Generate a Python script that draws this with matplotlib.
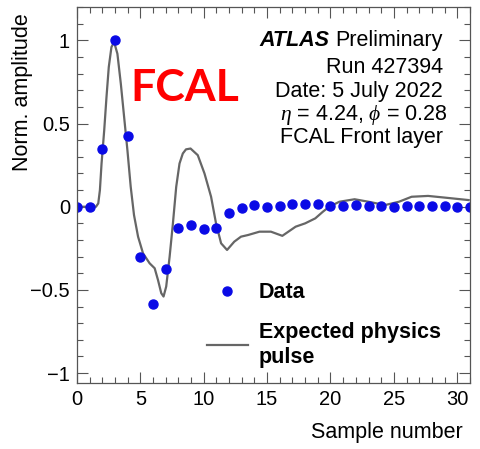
import numpy as np
import matplotlib
matplotlib.use('Agg')
import matplotlib.pyplot as plt
from matplotlib.ticker import MultipleLocator

plt.rcParams['font.family'] = ['Liberation Sans', 'DejaVu Sans']
plt.rcParams['mathtext.fontset'] = 'custom'
plt.rcParams['mathtext.it'] = 'Liberation Serif:italic'
plt.rcParams['mathtext.rm'] = 'Liberation Sans'

# ============================== Data ==========================================
sample = list(range(32))
amplitude = [0.0, 0.0, 0.35, 1.0, 0.425, -0.30, -0.585, -0.375, -0.13, -0.11,
             -0.135, -0.127, -0.04, -0.005, 0.01, 0.0, 0.005, 0.015, 0.015, 0.015,
             0.005, 0.005, 0.008, 0.005, 0.003, 0.0, 0.005, 0.003, 0.003, 0.003,
             0.0, 0.0]

pulse_x = [0.0, 1.0, 1.5, 1.68, 1.81, 1.94, 2.15, 2.33, 2.51, 2.72, 2.93, 3.19,
           3.46, 3.72, 3.98, 4.24, 4.50, 4.82, 5.21, 5.73, 6.13, 6.39, 6.65, 6.83,
           7.04, 7.31, 7.57, 7.83, 8.09, 8.35, 8.6, 8.96, 9.53, 10.06, 10.58, 10.97,
           11.37, 11.84, 12.41, 12.94, 13.5, 14.4, 15.3, 16.2, 17.25, 18.0, 18.8,
           19.4, 19.9, 20.7, 21.9, 23.0, 24.3, 25.4, 26.4, 27.7, 29.0, 30.9]
pulse_y = [0.0, 0.0, 0.0, 0.02, 0.10, 0.26, 0.46, 0.66, 0.84, 0.96, 0.99, 0.92,
           0.74, 0.54, 0.34, 0.12, -0.05, -0.18, -0.28, -0.34, -0.37, -0.44, -0.52,
           -0.54, -0.48, -0.30, -0.10, 0.12, 0.26, 0.32, 0.345, 0.35, 0.31, 0.20,
           0.06, -0.10, -0.22, -0.26, -0.21, -0.18, -0.17, -0.15, -0.15, -0.175,
           -0.12, -0.10, -0.07, -0.03, 0.0, 0.03, 0.045, 0.03, 0.01, 0.03, 0.06,
           0.065, 0.055, 0.04]

info_lines = ['Run 427394', 'Date: 5 July 2022',
              r'$\eta$ = 4.24, $\phi$ = 0.28', 'FCAL Front layer']

# ============================== Plot ==========================================
fig = plt.figure(figsize=(4.81, 4.49), dpi=100)
ax = fig.add_axes([0.160, 0.147, 0.817, 0.837])

ax.plot(pulse_x, pulse_y, color='#666666', lw=1.6, label='Expected physics\npulse')
ax.plot(sample, amplitude, 'o', color='#0a0ae6', ms=6.5, ls='none', label='Data')

ax.set_xlim(0, 31)
ax.set_ylim(-1.06, 1.2)
ax.xaxis.set_major_locator(MultipleLocator(5))
ax.xaxis.set_minor_locator(MultipleLocator(1))
ax.yaxis.set_minor_locator(MultipleLocator(0.1))
ax.set_yticks([-1, -0.5, 0, 0.5, 1])
ax.set_yticklabels(['\u22121', '\u22120.5', '0', '0.5', '1'])

ax.tick_params(which='both', direction='in', top=True, right=True,
               color='#555555', labelsize=14.5, width=0.8)
ax.tick_params(which='major', length=8, pad=5)
ax.tick_params(which='minor', length=4)
for sp in ax.spines.values():
    sp.set_color('#555555')
    sp.set_linewidth(0.9)

ax.set_xlabel('Sample number', fontsize=15.5, loc='right')
ax.xaxis.set_label_coords(0.981, -0.105)
ax.set_ylabel('Norm. amplitude', fontsize=15.5, loc='top')
ax.yaxis.set_label_coords(-0.112, 0.985)

# text block top right
prelim = ax.text(0.931, 0.896, 'Preliminary', transform=ax.transAxes,
                 ha='right', va='baseline', fontsize=15.5)
ax.annotate('ATLAS', xy=(0, 0), xycoords=prelim, xytext=(-4, 0),
            textcoords='offset points', ha='right', va='bottom',
            fontsize=15.5, fontweight='bold', fontstyle='italic')
ys = [0.825, 0.761, 0.699, 0.6375]
xs = [0.931, 0.931, 0.944, 0.931]
for t, xx, yy in zip(info_lines, xs, ys):
    ax.text(xx, yy, t, transform=ax.transAxes, ha='right', va='baseline',
            fontsize=15.5)

ax.text(0.275, 0.75, 'FCAL', transform=ax.transAxes, ha='center',
        va='baseline', fontsize=32, fontweight='bold', color='red',
        family='Lato')

# legend
h, l = ax.get_legend_handles_labels()
leg = ax.legend(h[::-1], l[::-1], loc='upper left', bbox_to_anchor=(0.331, 0.268),
                frameon=False, borderpad=0, borderaxespad=0, handlelength=1.9,
                handletextpad=0.5, labelspacing=0.85,
                prop={'weight': 'bold', 'size': 15.5})
for t in leg.get_texts():
    t.set_linespacing(1.25)

fig.savefig('out.png', dpi=100)
